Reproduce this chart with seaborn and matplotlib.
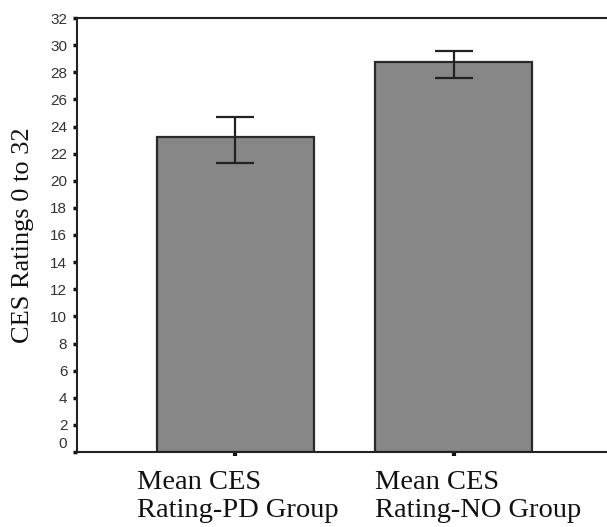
import matplotlib
matplotlib.use("Agg")
import matplotlib.pyplot as plt
import matplotlib.transforms as mtransforms
import seaborn as sns
import pandas as pd

categories = ["Mean CES\nRating-PD Group", "Mean CES\nRating-NO Group"]
means = [23.2, 28.75]
err_low = [21.3, 27.6]
err_high = [24.7, 29.6]
yticks = list(range(0, 33, 2))

sns.set_theme(style="white")
plt.rcParams["font.family"] = ["DejaVu Sans"]

df = pd.DataFrame({"group": categories, "mean": means})

fig = plt.figure(figsize=(6.07, 5.27), dpi=100)
ax = fig.add_axes([77 / 607, 1 - 452 / 527, 1 - 77 / 607, (452 - 18) / 527])

sns.barplot(data=df, x="group", y="mean", color="#878787", saturation=1,
            width=0.72, edgecolor="#2a2a2a", linewidth=1.6, errorbar=None, ax=ax)

xs = list(range(len(categories)))
yerr = [[m - lo for m, lo in zip(means, err_low)], [hi - m for m, hi in zip(means, err_high)]]
ax.errorbar(xs, means, yerr=yerr, fmt="none", ecolor="#222222", elinewidth=1.6,
            capsize=14, capthick=1.6)

ax.set_ylim(0, 32)
ax.set_xlim(-0.727, 1.704)
ax.set_yticks(yticks)
ax.set_yticklabels([str(t) for t in yticks], fontsize=11, family="Liberation Sans",
                   color="#333333")
ax.tick_params(axis="y", direction="out", length=3, width=2.5, color="#111111", pad=4, left=True)
ax.tick_params(axis="x", direction="out", length=3, width=3, color="#111111", pad=10, bottom=True)

ax.set_xticks(xs)
ax.set_xticklabels(categories, fontsize=20.5, family="Liberation Serif",
                   color="#111111", linespacing=1.15, multialignment="left")
offsets = [2, 25]
for lab, dx in zip(ax.get_xticklabels(), offsets):
    lab.set_transform(lab.get_transform() + mtransforms.ScaledTranslation(dx / 100, 0, fig.dpi_scale_trans))

for lab in ax.get_yticklabels():
    if lab.get_text() == "0":
        lab.set_transform(lab.get_transform() + mtransforms.ScaledTranslation(0, 10 / 100, fig.dpi_scale_trans))

ax.set_xlabel("")
ax.set_ylabel("CES Ratings 0 to 32", fontsize=19, family="Liberation Serif",
              color="#111111", labelpad=12)

for s in ["left", "bottom", "top"]:
    ax.spines[s].set_visible(True)
    ax.spines[s].set_color("#222222")
    ax.spines[s].set_linewidth(1.5)
ax.spines["right"].set_visible(False)

fig.savefig("out.png", dpi=100)
